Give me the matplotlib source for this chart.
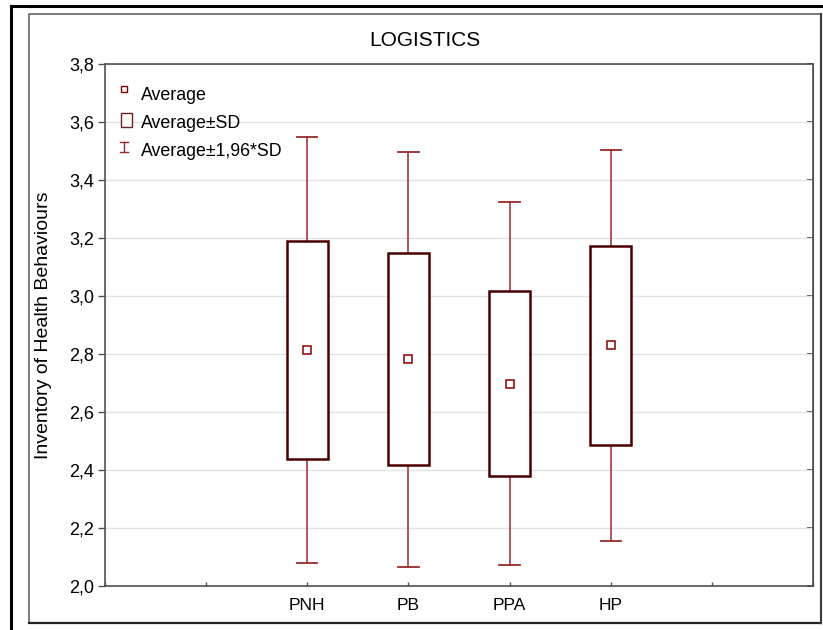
import matplotlib
matplotlib.use("Agg")
import matplotlib.pyplot as plt
from matplotlib.lines import Line2D
from matplotlib.patches import Rectangle
from matplotlib.ticker import FuncFormatter, FixedLocator

plt.rcParams['font.family'] = ['Liberation Sans', 'DejaVu Sans']

# Data: group means and standard deviations
groups = ["PNH", "PB", "PPA", "HP"]
means = [2.813, 2.782, 2.698, 2.830]
sds = [0.375, 0.365, 0.320, 0.344]
z = 1.96

title = "LOGISTICS"
ylabel = "Inventory of Health Behaviours"
yticks = [2.0, 2.2, 2.4, 2.6, 2.8, 3.0, 3.2, 3.4, 3.6, 3.8]

W, H = 823, 630
fig = plt.figure(figsize=(W / 100, H / 100), dpi=100)


def px(x, y):
    """Pixel position (from top-left) to figure fraction."""
    return x / W, 1 - y / H


# Axes placement in pixels
L, T, R, B = 105, 64, 813, 586
ax = fig.add_axes([L / W, 1 - B / H, (R - L) / W, (B - T) / H])

box_col = "#4a0000"
wh_col = "#9a2a2a"
mean_col = "#8b0000"

positions = [2, 3, 4, 5]
box_w = 0.4
cap_w = 0.2
for xpos, m, s in zip(positions, means, sds):
    lo1, hi1 = m - s, m + s
    lo2, hi2 = m - z * s, m + z * s
    # whiskers
    ax.plot([xpos, xpos], [hi1, hi2], color=wh_col, lw=1.1, zorder=3)
    ax.plot([xpos, xpos], [lo2, lo1], color=wh_col, lw=1.1, zorder=3)
    ax.plot([xpos - cap_w / 2, xpos + cap_w / 2], [hi2, hi2], color=wh_col, lw=1.3, zorder=3)
    ax.plot([xpos - cap_w / 2, xpos + cap_w / 2], [lo2, lo2], color=wh_col, lw=1.3, zorder=3)
    # SD box
    ax.add_patch(Rectangle((xpos - box_w / 2, lo1), box_w, hi1 - lo1,
                           facecolor="white", edgecolor=box_col, lw=1.8, zorder=4))
    # mean marker
    ax.plot([xpos], [m], marker="s", ms=5.5, mfc="white", mec=mean_col, mew=1.1, zorder=5)

ax.set_xlim(0, 7)
ax.set_ylim(2.0, 3.8)
ax.xaxis.set_major_locator(FixedLocator(range(0, 8)))
ax.set_xticklabels(["", ""] + groups + ["", ""])
ax.set_yticks(yticks)
ax.yaxis.set_major_formatter(FuncFormatter(lambda v, p: f"{v:.1f}".replace(".", ",")))
ax.grid(axis="y", color="#e2e2e2", lw=1.0, zorder=0)
ax.set_axisbelow(True)

for sp in ax.spines.values():
    sp.set_color("#505050")
    sp.set_linewidth(1.2)

ax.tick_params(axis="y", which="both", direction="out", length=5, width=1,
               color="#505050", labelsize=13, pad=3)
ax.tick_params(axis="x", direction="in", length=3, width=1, color="#505050",
               labelsize=12.5, pad=9)
# right side ticks pointing inward
ax2 = ax.secondary_yaxis("right")
ax2.set_yticks(yticks)
ax2.tick_params(direction="in", length=4, width=1.2, color="#303030", labelright=False)
ax2.spines["right"].set_color("#505050")

fig.text(*px(44, 325), ylabel, rotation=90, ha="center", va="center", fontsize=14)
fig.text(*px(425, 40), title, ha="center", va="center", fontsize=15)

# Legend drawn in pixel coordinates
tr = fig.transFigure
fig.add_artist(Line2D(*zip(px(124, 89)), marker="s", ms=4.5, mfc="white",
                      mec=mean_col, mew=1.0, transform=tr))
x0, y0 = px(121, 127)
x1, y1 = px(132, 113)
fig.add_artist(Rectangle((x0, y0), x1 - x0, y1 - y0, facecolor="white",
                         edgecolor="#6a2020", lw=1.0, transform=tr))
for seg in [((124, 142), (124, 152)), ((120, 142), (128, 142)), ((120, 152), (128, 152))]:
    (ax_, ay_), (bx_, by_) = px(*seg[0]), px(*seg[1])
    fig.add_artist(Line2D([ax_, bx_], [ay_, by_], color=wh_col, lw=1.0, transform=tr))
for ty, txt in [(96, "Average"), (124, "Average±SD"), (152, "Average±1,96*SD")]:
    fig.text(*px(141, ty), txt, ha="left", va="center", fontsize=12.8)

# Frames around the figure
ix0, iy0 = px(29, 623)
ix1, iy1 = px(821, 14)
fig.add_artist(Rectangle((ix0, iy0), ix1 - ix0, iy1 - iy0, fill=False,
                         edgecolor="#707070", lw=1.3, transform=tr))
fig.add_artist(Line2D([ix0, ix1], [iy0, iy0], color="#202020", lw=1.6, transform=tr))
fig.add_artist(Line2D([ix1, ix1], [iy0, iy1], color="#404040", lw=1.6, transform=tr))
ox0, oy0 = px(11, 630)
ox1, oy1 = px(823, 6)
fig.add_artist(Line2D([ox0, ox0], [oy0, oy1], color="black", lw=2.2, transform=tr))
fig.add_artist(Line2D([ox0, ox1], [oy1, oy1], color="black", lw=2.2, transform=tr))

fig.savefig("out.png", dpi=100)
